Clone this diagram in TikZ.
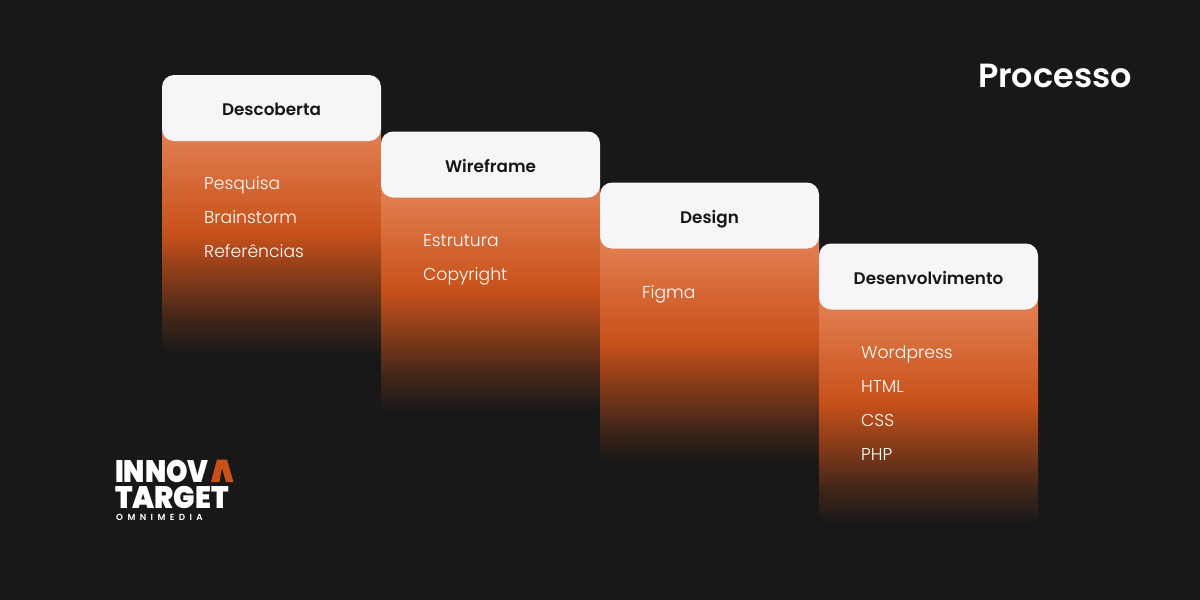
\documentclass[tikz,border=0pt]{standalone}
\usepackage{fontspec}
\setmainfont{Poppins}
\newfontfamily\itemfont{Poppins Light}
\newfontfamily\headfont{Poppins SemiBold}
\newfontfamily\logofont[FakeStretch=0.88]{Poppins Black}
\newfontfamily\targetfont[FakeStretch=0.92]{Poppins Black}
\usetikzlibrary{positioning}
\definecolor{bgdark}{HTML}{181818}
\definecolor{cardwhite}{HTML}{F6F6F8}
\definecolor{cardink}{HTML}{161618}
\definecolor{rust}{HTML}{C8511A}
\definecolor{glow}{HTML}{E17C4E}
\pgfdeclareverticalshading{stepfade}{100bp}{
  color(0bp)=(bgdark); color(25bp)=(bgdark); color(32.4bp)=(rust!22!bgdark); color(38.8bp)=(rust!50!bgdark); color(51bp)=(rust); color(70.7bp)=(glow); color(100bp)=(glow)}
\tikzset{
  stepbody/.style={shading=stepfade, rounded corners=10pt},
  stephead/.style={draw=none, fill=cardwhite, rounded corners=12pt, minimum width=219pt, minimum height=66pt, inner sep=0pt, text height=15pt, text depth=0pt, text=cardink, font=\fontsize{16.8}{20}\headfont},
  stepitem/.style={anchor=base west, inner sep=0pt, text=white, font=\fontsize{17.2}{20}\itemfont},
  logotext/.style={anchor=base west, inner sep=0pt, text=white, font=\fontsize{31}{31}\logofont}
}
\begin{document}
\begin{tikzpicture}[x=1pt,y=-1pt]
  \fill[bgdark] (0,0) rectangle (1200,600);
  \useasboundingbox (0,0) rectangle (1200,600);

  \node (title) at (1055,76) [text=white, inner sep=0pt, font=\fontsize{33.5}{36}\headfont] {Processo};

  \shade[stepbody] (162,120) rectangle (381,355);
  \node (descoberta) at (271.5,108) [stephead] {Descoberta};
  \node (pesquisa) at (204,189) [stepitem] {Pesquisa};
  \node (brainstorm) at (204,223) [stepitem] {Brainstorm};
  \node (referencias) at (204,257) [stepitem] {Referências};

  \shade[stepbody] (381,177) rectangle (600,413);
  \node (wireframe) at (490.5,164.5) [stephead] {Wireframe};
  \node (estrutura) at (423,246) [stepitem] {Estrutura};
  \node (copyright) at (423,280) [stepitem] {Copyright};

  \shade[stepbody] (600,228) rectangle (819,464);
  \node (design) at (709.5,215.5) [stephead] {Design};
  \node (figma) at (642,298) [stepitem] {Figma};

  \shade[stepbody] (819,289) rectangle (1038,525);
  \node (desenvolvimento) at (928.5,276.5) [stephead] {Desenvolvimento};
  \node (wordpress) at (861,358) [stepitem] {Wordpress};
  \node (html) at (861,392) [stepitem] {HTML};
  \node (css) at (861,426) [stepitem] {CSS};
  \node (php) at (861,460) [stepitem] {PHP};

  % logo
  \node (innov) at (115,482) [logotext] {INNOV};
  \node (target) at (115,508) [logotext, font=\fontsize{31}{31}\targetfont] {TARGET};
  \node (omnimedia) at (116,520.5) [anchor=base west, inner sep=0pt, text=white, font=\fontsize{8.8}{9}\headfont\addfontfeatures{LetterSpace=50}] {OMNIMEDIA};
  \fill[rust] (211,482) -- (217,459.5) -- (227,459.5) -- (233.5,482) -- (226,482) -- (222,468) -- (219.5,482) -- cycle;
\end{tikzpicture}
\end{document}
